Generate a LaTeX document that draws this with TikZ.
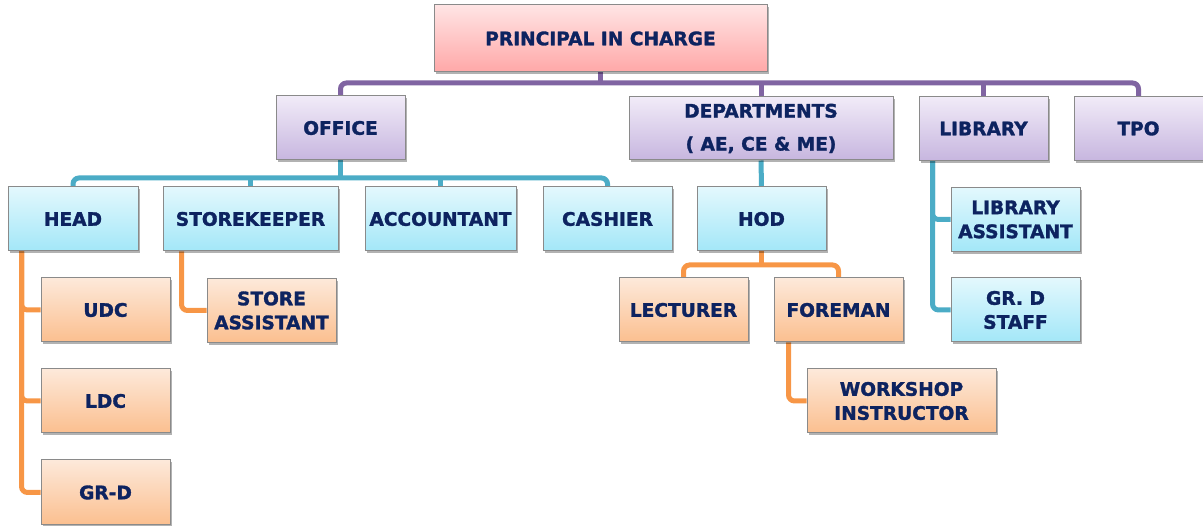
\documentclass[tikz,border=0pt]{standalone}
\usepackage{fontspec}
\setmainfont{DejaVu Sans}
\newfontfamily\heavyfont{DejaVu Sans}[UprightFont=*-Bold, FakeBold=1.6]
\usetikzlibrary{positioning,shadows,backgrounds}
\definecolor{txtblue}{HTML}{0D2360}
\definecolor{boxgray}{HTML}{8A8A8A}
\definecolor{pinktop}{HTML}{FFE4E4}
\definecolor{pinkbot}{HTML}{FFA8A8}
\definecolor{lilactop}{HTML}{F1EBF8}
\definecolor{lilacbot}{HTML}{C7B6DF}
\definecolor{skytop}{HTML}{E3F8FD}
\definecolor{skybot}{HTML}{A3E7F8}
\definecolor{peachtop}{HTML}{FDE9DA}
\definecolor{peachbot}{HTML}{FBBF8F}
\definecolor{purpleline}{HTML}{8064A2}
\definecolor{blueline}{HTML}{4BACC6}
\definecolor{orangeline}{HTML}{F79646}
\tikzset{
  box/.style={draw=boxgray, line width=1pt, minimum width=129pt, minimum height=64pt,
    inner sep=0pt, align=center, text=txtblue,
    font=\fontsize{18.6}{24}\heavyfont,
    drop shadow={shadow xshift=2pt, shadow yshift=-2.5pt, opacity=0.3, fill=black}},
  pinkbox/.style={box, top color=pinktop, bottom color=pinkbot},
  lilacbox/.style={box, top color=lilactop, bottom color=lilacbot},
  skybox/.style={box, top color=skytop, bottom color=skybot},
  peachbox/.style={box, top color=peachtop, bottom color=peachbot},
  link/.style={line width=5pt, rounded corners=6pt},
}
\begin{document}
\begin{tikzpicture}[x=1pt,y=-1pt]
    \useasboundingbox (0,0) rectangle (1203,526);
    %Principal
    \node[pinkbox, minimum width=333pt, minimum height=67pt] (principal) at (600.5,38.5) {PRINCIPAL IN CHARGE};
    %Second level
    \node[lilacbox] (office) at (340.5,128) {OFFICE};
    \node[lilacbox, minimum width=264pt, minimum height=63pt] (dept) at (761,128.5) {DEPARTMENTS\\[9pt]( AE, CE \& ME)};
    \node[lilacbox] (library) at (983.5,128.5) {LIBRARY};
    \node[lilacbox] (tpo) at (1138.5,128.5) {TPO};
    %Office staff
    \node[skybox, minimum width=130pt] (head) at (73,219) {HEAD};
    \node[skybox, minimum width=175pt] (store) at (250.5,219) {STOREKEEPER};
    \node[skybox, minimum width=151pt] (acct) at (440.5,219) {ACCOUNTANT};
    \node[skybox] (cashier) at (607.5,219) {CASHIER};
    %Department staff
    \node[skybox] (hod) at (761.5,219) {HOD};
    \node[peachbox] (lect) at (683.5,310) {LECTURER};
    \node[peachbox] (fore) at (838.5,310) {FOREMAN};
    \node[peachbox, minimum width=189pt] (wshop) at (901.5,401) {WORKSHOP\\INSTRUCTOR};
    %Library staff
    \node[skybox] (libasst) at (1015.5,219.5) {LIBRARY\\ASSISTANT};
    \node[skybox] (grdstaff) at (1015.5,310) {GR. D\\STAFF};
    %Head staff
    \node[peachbox] (udc) at (105.5,310) {UDC};
    \node[peachbox] (ldc) at (105.5,401) {LDC};
    \node[peachbox, minimum height=65pt] (grd) at (105.5,492.5) {GR-D};
    \node[peachbox] (storeasst) at (271.5,310.5) {STORE\\ASSISTANT};
    %Buses
    \coordinate (pbus) at (600.5,83);
    \coordinate (obus) at (340.5,178);
    \coordinate (hbus) at (761.5,265);
    \begin{scope}[on background layer]
    %Principal links
    \draw[link, purpleline] (principal.south) -- (pbus);
    \draw[link, purpleline] (office.north) |- (pbus) -| (tpo.north);
    \draw[link, purpleline] (dept.north) -- (dept.north |- pbus);
    \draw[link, purpleline] (library.north) -- (library.north |- pbus);
    %Office links
    \draw[link, blueline] (office.south) -- (obus);
    \draw[link, blueline] (head.north) |- (obus) -| (cashier.north);
    \draw[link, blueline] (store.north) -- (store.north |- obus);
    \draw[link, blueline] (acct.north) -- (acct.north |- obus);
    %Department links
    \draw[link, blueline] (dept.south) -- (hod.north);
    \draw[link, orangeline] (hod.south) -- (hbus);
    \draw[link, orangeline] (lect.north) |- (hbus) -| (fore.north);
    \draw[link, orangeline] ([xshift=15pt]fore.south west) |- (wshop.west);
    %Library links
    \draw[link, blueline] ([xshift=14pt]library.south west) |- (libasst.west);
    \draw[link, blueline] ([xshift=14pt]library.south west) |- (grdstaff.west);
    %Head and storekeeper links
    \draw[link, orangeline] ([xshift=14pt]head.south west) |- (udc.west);
    \draw[link, orangeline] ([xshift=14pt]head.south west) |- (ldc.west);
    \draw[link, orangeline] ([xshift=14pt]head.south west) |- (grd.west);
    \draw[link, orangeline] ([xshift=19pt]store.south west) |- (storeasst.west);
    \end{scope}
\end{tikzpicture}
\end{document}
